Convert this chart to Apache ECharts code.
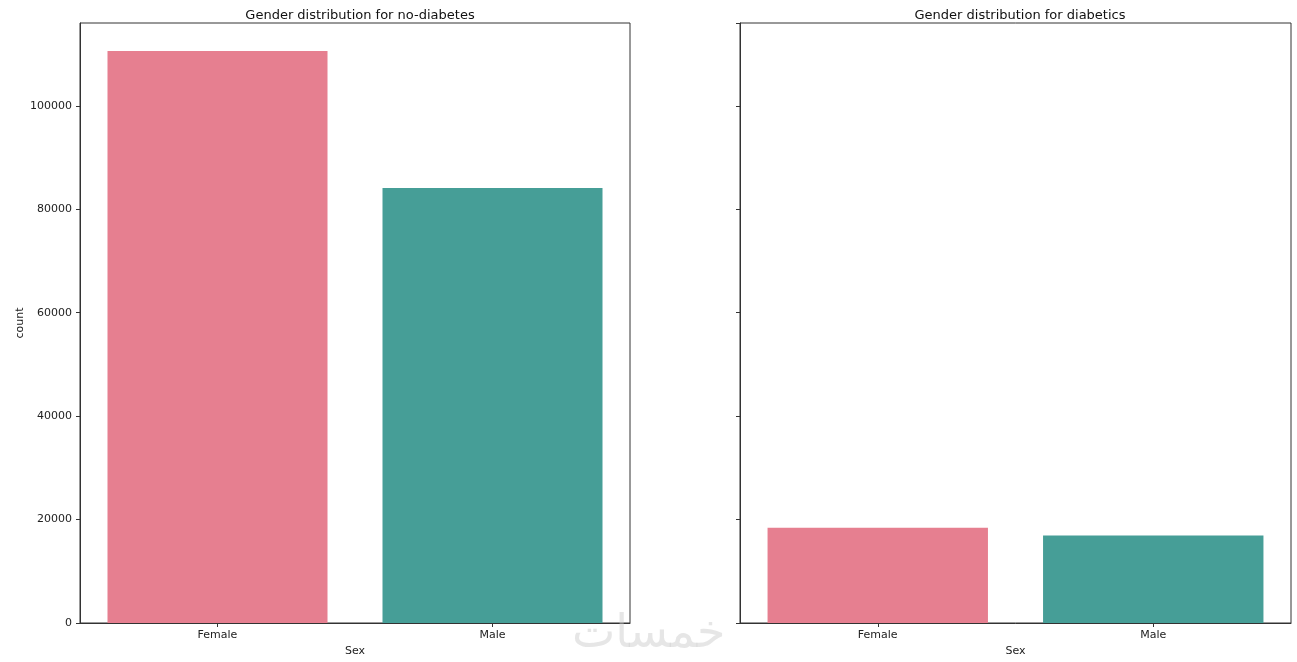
<!DOCTYPE html>
<html>
<head>
<meta charset="utf-8">
<script src="https://cdn.jsdelivr.net/npm/echarts@6/dist/echarts.min.js"></script>
<style>html,body{margin:0;padding:0;background:#fff}#c{width:1297px;height:662px}</style>
</head>
<body>
<div id="c"></div>
<script>
const categories = ['Female', 'Male'];
const noDiabetes = [110600, 84100];
const diabetics = [18400, 16900];
const barColors = ['#e67f90', '#469e97'];
const yTicks = [0, 20000, 40000, 60000, 80000, 100000];

const chart = echarts.init(document.getElementById('c'));
const font = 'DejaVu Sans';
function xAx(gi) {
  return {
    type: 'category', gridIndex: gi, data: categories,
    name: 'Sex', nameLocation: 'middle', nameGap: 23,
    nameTextStyle: {fontFamily: font, fontSize: 11, color: '#222'},
    axisLine: {show: true, lineStyle: {color: '#333', width: 1}},
    axisTick: {show: true, alignWithLabel: true, length: 4, lineStyle: {color: '#333'}},
    axisLabel: {fontFamily: font, fontSize: 11, color: '#222', margin: 7},
    splitLine: {show: false}
  };
}
function yAx(gi, labels) {
  return {
    type: 'value', gridIndex: gi, min: 0, max: 116000, interval: 20000,
    name: labels ? 'count' : '', nameLocation: 'middle', nameGap: 53,
    nameTextStyle: {fontFamily: font, fontSize: 11, color: '#222'},
    axisLine: {show: true, lineStyle: {color: '#333', width: 1}},
    axisTick: {show: true, length: 4, lineStyle: {color: '#333'}},
    axisLabel: {show: labels, fontFamily: font, fontSize: 11, color: '#222', margin: 8,
      showMaxLabel: false,
      formatter: v => yTicks.indexOf(v) >= 0 ? String(v) : ''},
    splitLine: {show: false}
  };
}
function series(gi, vals) {
  return {
    type: 'bar', xAxisIndex: gi, yAxisIndex: gi, barCategoryGap: '20%',
    data: vals.map((v, i) => ({value: v, itemStyle: {color: barColors[i]}})),
    silent: true
  };
}
chart.setOption({
  animation: false,
  backgroundColor: '#fff',
  title: [
    {text: 'Gender distribution for no-diabetes', left: 355, top: 4, textAlign: 'center',
      textStyle: {fontFamily: font, fontSize: 13, fontWeight: 'normal', color: '#111'}},
    {text: 'Gender distribution for diabetics', left: 1015, top: 4, textAlign: 'center',
      textStyle: {fontFamily: font, fontSize: 13, fontWeight: 'normal', color: '#111'}}
  ],
  grid: [
    {left: 80, top: 23, width: 550, height: 603, show: true, borderColor: '#333', borderWidth: 1, backgroundColor: 'transparent'},
    {left: 740, top: 23, width: 551, height: 603, show: true, borderColor: '#333', borderWidth: 1, backgroundColor: 'transparent'}
  ],
  xAxis: [xAx(0), xAx(1)],
  yAxis: [yAx(0, true), yAx(1, false)],
  series: [series(0, noDiabetes), series(1, diabetics)],
  graphic: [
    {type: 'text', left: 572, top: 612, z: 100, silent: true,
      style: {text: 'خمسات', fontFamily: 'DejaVu Sans', fontSize: 46, fill: 'rgba(200,200,200,0.45)'}}
  ]
});
</script>
</body>
</html>
